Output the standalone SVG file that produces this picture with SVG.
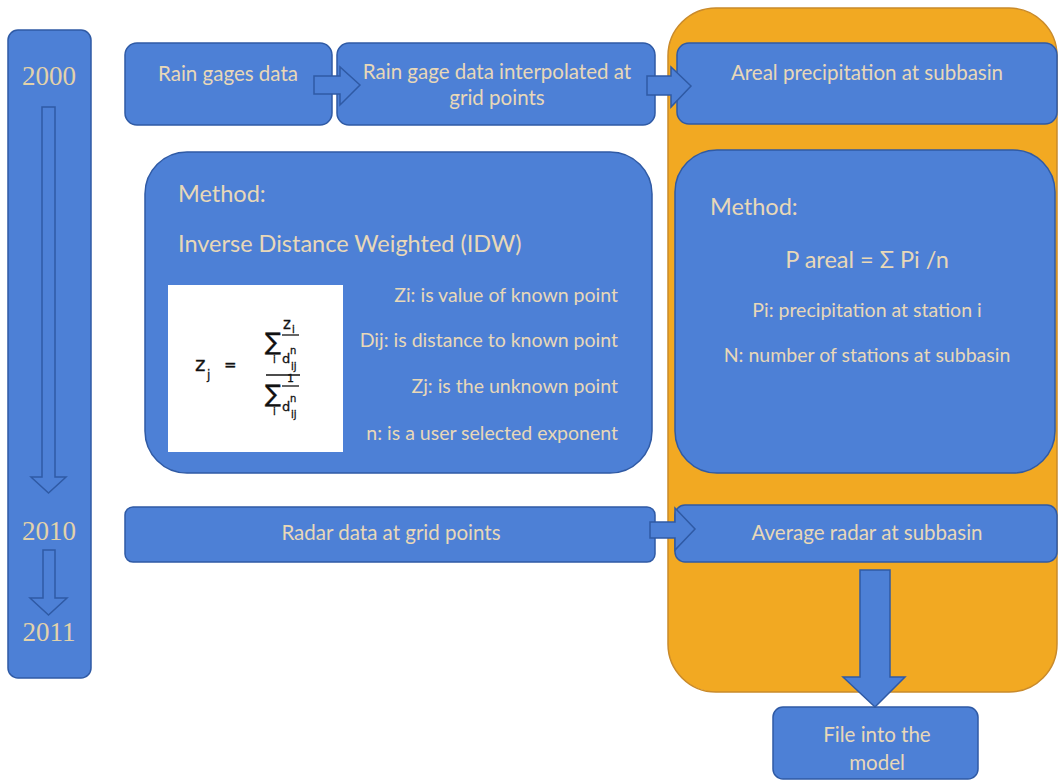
<svg xmlns="http://www.w3.org/2000/svg" width="1060" height="783" viewBox="0 0 1060 783">
<style>
.box{fill:#4d80d6;stroke:#2f5aa5;stroke-width:1.5}
.arr{fill:#4d80d6;stroke:#2f5aa5;stroke-width:1.5;stroke-linejoin:miter}
.oarr{fill:none;stroke:#2f5aa5;stroke-width:1.5}
.t{font-family:Lato,"Open Sans","Liberation Sans",sans-serif;fill:#e8d8b8;font-size:20.5px}
.big{font-size:23.5px}
.sm{font-size:19.5px}
.yr{font-family:"Liberation Serif",serif;fill:#e2d2aa;font-size:27px;text-anchor:middle}
.f{font-family:"DejaVu Sans",sans-serif;fill:#111;stroke:#111;stroke-width:0.3}
</style>
<rect width="1060" height="783" fill="#ffffff"/>
<g id="orange-panel"><rect x="668" y="8" width="389" height="684" rx="48" fill="#f2a922" stroke="#c98a2a" stroke-width="1.5"/></g>
<g id="timeline">
<rect class="box" x="8" y="30" width="83" height="648" rx="10"/>
<text class="yr" x="49" y="85">2000</text>
<path class="oarr" d="M42,107 H55 V477 H66 L48.5,493 L31,477 H42 Z"/>
<text class="yr" x="49" y="540">2010</text>
<path class="oarr" d="M43,550 H55 V598 H67 L48.5,615 L30,598 H43 Z"/>
<text class="yr" x="49" y="641">2011</text>
</g>
<g id="rain-gages"><rect class="box" x="125" y="43" width="207" height="82" rx="12"/>
<text class="t" x="228" y="81" text-anchor="middle">Rain gages data</text></g>
<g id="interpolated"><rect class="box" x="337" y="43" width="318" height="82" rx="12"/>
<text class="t" x="497" y="79" text-anchor="middle">Rain gage data interpolated at</text>
<text class="t" x="497" y="105" text-anchor="middle">grid points</text></g>
<g id="areal"><rect class="box" x="677" y="43" width="380" height="81" rx="12"/>
<text class="t" x="867" y="80" text-anchor="middle">Areal precipitation at subbasin</text></g>
<g id="idw-method"><rect class="box" x="145" y="152" width="507" height="321" rx="42"/>
<text class="t big" x="178" y="202">Method:</text>
<text class="t big" x="178" y="252">Inverse Distance Weighted (IDW)</text>
<rect x="168" y="285" width="175" height="167" fill="#ffffff"/>
<text class="f" x="195" y="371" font-size="20">z</text>
<text class="f" x="207" y="379" font-size="12">j</text>
<text class="f" x="224" y="370" font-size="15">=</text>
<text class="f" x="265" y="350" font-size="24">∑</text>
<text class="f" x="273" y="363" font-size="10">i</text>
<text class="f" x="283" y="329" font-size="15">z</text>
<text class="f" x="292" y="333" font-size="10">i</text>
<line x1="282" y1="335" x2="299" y2="335" stroke="#111" stroke-width="1.3"/>
<text class="f" x="282" y="363" font-size="13">d</text>
<text class="f" x="290" y="354" font-size="10">n</text>
<text class="f" x="291" y="370" font-size="10">ij</text>
<line x1="266" y1="375" x2="300" y2="375" stroke="#111" stroke-width="1.6"/>
<text class="f" x="265" y="402" font-size="24">∑</text>
<text class="f" x="273" y="415" font-size="10">i</text>
<text class="f" x="287" y="382" font-size="11">1</text>
<line x1="282" y1="386" x2="299" y2="386" stroke="#111" stroke-width="1.3"/>
<text class="f" x="282" y="411" font-size="13">d</text>
<text class="f" x="290" y="402" font-size="10">n</text>
<text class="f" x="291" y="418" font-size="10">ij</text>
<text class="t sm" x="618" y="302" text-anchor="end">Zi: is value of known point</text>
<text class="t sm" x="618" y="347" text-anchor="end">Dij: is distance to known point</text>
<text class="t sm" x="618" y="393" text-anchor="end">Zj: is the unknown point</text>
<text class="t sm" x="618" y="440" text-anchor="end">n: is a user selected exponent</text>
</g>
<g id="areal-method"><rect class="box" x="675" y="150" width="380" height="323" rx="42"/>
<text class="t big" x="710" y="215">Method:</text>
<text class="t big" x="867" y="268" text-anchor="middle">P areal = Σ Pi /n</text>
<text class="t sm" x="867" y="317" text-anchor="middle">Pi: precipitation at station i</text>
<text class="t sm" x="867" y="362" text-anchor="middle">N: number of stations at subbasin</text>
</g>
<g id="radar"><rect class="box" x="125" y="507" width="530" height="55" rx="8"/>
<text class="t" x="391" y="540" text-anchor="middle">Radar data at grid points</text></g>
<g id="avg-radar"><rect class="box" x="675" y="505" width="382" height="57" rx="10"/>
<text class="t" x="867" y="540" text-anchor="middle">Average radar at subbasin</text></g>
<g id="file-model"><rect class="box" x="773" y="707" width="205" height="72" rx="10"/>
<text class="t" x="877" y="742" text-anchor="middle">File into the</text>
<text class="t" x="877" y="770" text-anchor="middle">model</text></g>
<g id="connectors">
<path class="arr" d="M314,76 H340 V67 L360,85 L340,105 V94 H314 Z"/>
<path class="arr" d="M647,76 H671 V67 L691,86 L671,107 V95 H647 Z"/>
<path class="arr" d="M650,522 H675 V508 L695,529 L675,550 V538 H650 Z"/>
<path class="arr" d="M860,570 H890 V677 H905 L875,707 L843,677 H860 Z"/>
</g>
</svg>
